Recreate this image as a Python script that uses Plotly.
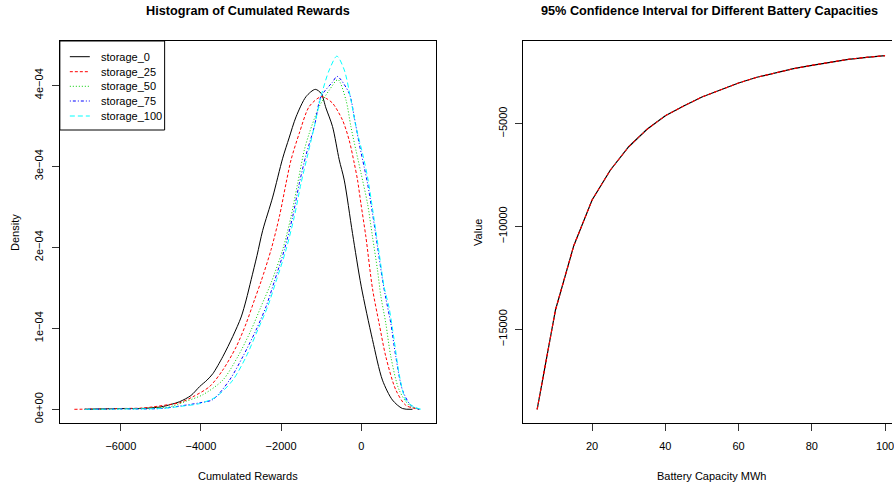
import plotly.graph_objects as go

# ---------------- data: density curves (density in units of 1e-4) ----------------
s0_x = [-6900, -6000, -5500, -5000, -4750, -4533, -4250, -4035, -3850, -3703, -3455, -3205,
        -2996, -2872, -2747, -2600, -2458, -2209, -1960, -1800, -1627, -1377, -1146, -1000,
        -880, -715, -548, -423, -216, 0, 282, 531, 780, 1029, 1280]
s0_y = [0, 0.01, 0.01, 0.03, 0.06, 0.094, 0.17, 0.28, 0.36, 0.44, 0.65, 0.90,
        1.14, 1.35, 1.60, 1.90, 2.21, 2.62, 3.10, 3.35, 3.61, 3.86, 3.95, 3.90,
        3.72, 3.49, 3.08, 2.83, 2.17, 1.52, 0.86, 0.36, 0.115, 0.01, 0]

s25_x = [-7160, -6500, -6000, -5500, -5197, -4782, -4533, -4202, -3786, -3455, -3121, -2872,
         -2665, -2499, -2250, -2042, -1876, -1751, -1544, -1295, -1004, -880, -715, -466,
         -299, -174, -91, -7, 117, 282, 448, 615, 864, 1113, 1445]
s25_y = [0, 0.005, 0.01, 0.015, 0.03, 0.06, 0.08, 0.155, 0.28, 0.485, 0.77, 1.06,
         1.35, 1.58, 1.97, 2.38, 2.79, 3.08, 3.41, 3.74, 3.86, 3.84, 3.78, 3.57,
         3.32, 3.04, 2.83, 2.54, 2.13, 1.49, 1.06, 0.65, 0.24, 0.05, 0]

s50_x = [-6900, -6000, -5500, -5000, -4782, -4368, -3953, -3455, -3080, -2747, -2499, -2250,
         -1960, -1751, -1586, -1420, -1295, -1046, -797, -581, -381, -257, -132, -7,
         158, 282, 407, 490, 615, 740, 946, 1196, 1450]
s50_y = [0, 0.005, 0.01, 0.02, 0.03, 0.10, 0.18, 0.36, 0.65, 0.98, 1.27, 1.56,
         1.97, 2.38, 2.79, 3.20, 3.41, 3.74, 3.94, 4.07, 3.82, 3.49, 3.20, 2.92,
         2.54, 2.13, 1.72, 1.40, 1.06, 0.65, 0.24, 0.05, 0]

s75_x = [-6900, -6000, -5000, -4533, -4035, -3703, -3288, -2955, -2623, -2374, -2167, -1918,
         -1710, -1544, -1377, -1170, -1004, -715, -600, -299, -174, -50, 75, 158,
         282, 407, 531, 615, 740, 864, 1029, 1237, 1450]
s75_y = [0, 0.005, 0.01, 0.04, 0.08, 0.12, 0.36, 0.65, 0.98, 1.27, 1.58, 1.97,
         2.38, 2.79, 3.14, 3.49, 3.86, 4.04, 4.11, 3.90, 3.61, 3.28, 2.99, 2.79,
         2.42, 2.01, 1.60, 1.37, 1.06, 0.65, 0.24, 0.05, 0]

s100_x = [-6900, -6000, -5000, -4450, -4035, -3620, -3205, -2872, -2582, -2333, -2125, -1876,
          -1669, -1502, -1336, -1170, -1004, -797, -606, -423, -257, -132, 33, 158,
          324, 448, 573, 698, 822, 946, 1113, 1320, 1500]
s100_y = [0, 0.005, 0.01, 0.04, 0.07, 0.155, 0.36, 0.65, 0.98, 1.27, 1.58, 1.97,
          2.38, 2.79, 3.14, 3.49, 3.86, 4.19, 4.36, 4.19, 3.82, 3.49, 3.16, 2.87,
          2.34, 1.93, 1.51, 1.25, 0.86, 0.44, 0.115, 0.03, 0]

series_names = ["storage_0", "storage_25", "storage_50", "storage_75", "storage_100"]
series_colors = ["#000000", "#FF0000", "#00CD00", "#0000FF", "#00FFFF"]
series_dash = ["solid", "3px,2px", "1px,2px", "1px,2px,3px,2px", "5px,3px"]

density_ticks = [0, 1, 2, 3, 4]
density_ticktext = ["0e+00", "1e\u221204", "2e\u221204", "3e\u221204", "4e\u221204"]
reward_ticks = [-6000, -4000, -2000, 0]
reward_ticktext = ["\u22126000", "\u22124000", "\u22122000", "0"]

# ---------------- data: battery capacity curve ----------------
capacity = [5, 10, 15, 20, 25, 30, 35, 40, 45, 50, 55, 60, 65, 70, 75, 80, 85, 90, 95, 100]
mean_value = [-18891, -14061, -10934, -8711, -7252, -6119, -5273, -4611, -4139, -3701,
              -3361, -3020, -2743, -2519, -2325, -2160, -1999, -1868, -1770, -1693]
ci_lower = [-18891, -14061, -10934, -8711, -7252, -6119, -5273, -4611, -4139, -3701,
            -3361, -3020, -2743, -2519, -2325, -2160, -1999, -1868, -1770, -1693]
ci_upper = [-18891, -14061, -10934, -8711, -7252, -6119, -5273, -4611, -4139, -3701,
            -3361, -3020, -2743, -2519, -2325, -2160, -1999, -1868, -1770, -1693]
cap_ticks = [20, 40, 60, 80, 100]
value_ticks = [-15000, -10000, -5000]
value_ticktext = ["\u221215000", "\u221210000", "\u22125000"]

# ---------------- figure ----------------
W, H = 894, 484
FONT = "Liberation Sans, Arial, Helvetica, sans-serif"

def px(x):
    return x / W

def py(y):
    return 1 - y / H

fig = go.Figure()

xs = [s0_x, s25_x, s50_x, s75_x, s100_x]
ys = [s0_y, s25_y, s50_y, s75_y, s100_y]
for name, col, dash, x, y in zip(series_names, series_colors, series_dash, xs, ys):
    fig.add_trace(go.Scatter(
        x=x, y=[v * 1e-4 for v in y], mode="lines", name=name,
        line=dict(color=col, width=1, dash=dash, shape="spline", smoothing=0.8),
        xaxis="x", yaxis="y", showlegend=False))

fig.add_trace(go.Scatter(x=capacity, y=mean_value, mode="lines", name="mean",
                         line=dict(color="#000000", width=1.2),
                         xaxis="x2", yaxis="y2", showlegend=False))
fig.add_trace(go.Scatter(x=capacity, y=ci_lower, mode="lines", name="lower",
                         line=dict(color="#FF0000", width=1, dash="3px,3px"),
                         xaxis="x2", yaxis="y2", showlegend=False))
fig.add_trace(go.Scatter(x=capacity, y=ci_upper, mode="lines", name="upper",
                         line=dict(color="#FF0000", width=1, dash="3px,3px"),
                         xaxis="x2", yaxis="y2", showlegend=False))

# plot box geometry (pixels)
L1, R1, T, B = 60, 437, 41, 423
L2 = 524.3

axis_common = dict(showgrid=False, zeroline=False, showline=True, linecolor="black",
                   linewidth=1, ticks="outside", ticklen=7, tickcolor="#333",
                   tickfont=dict(family=FONT, size=11, color="black"))

fig.update_layout(
    width=W, height=H, margin=dict(l=0, r=0, t=0, b=0),
    paper_bgcolor="white", plot_bgcolor="white",
    font=dict(family=FONT, size=11, color="black"),
    xaxis=dict(domain=[px(L1), px(R1)], range=[-7522, 1868], anchor="y", mirror=True,
               tickvals=reward_ticks, ticktext=reward_ticktext, ticklabelstandoff=6,
               **axis_common),
    yaxis=dict(domain=[py(B), py(T)], range=[-0.169e-4, 4.547e-4], anchor="x", mirror=True,
               tickvals=[v * 1e-4 for v in density_ticks], ticktext=density_ticktext,
               tickangle=-90, ticklabelstandoff=4, **axis_common),
    xaxis2=dict(domain=[px(L2), 1], range=[1.17, 101.9], anchor="y2", mirror=True,
                tickvals=cap_ticks, ticklabelstandoff=6, ticklabeloverflow="allow",
                **axis_common),
    yaxis2=dict(domain=[py(B), py(T)], range=[-19557, -978], anchor="x2", mirror=False,
                tickvals=value_ticks, ticktext=value_ticktext, tickangle=-90,
                ticklabelstandoff=4, **axis_common),
)

annotations = [
    dict(text="<b>Histogram of Cumulated Rewards</b>", x=px((L1 + R1) / 2), y=py(11),
         font=dict(size=12.7, family=FONT)),
    dict(text="<b>95% Confidence Interval for Different Battery Capacities</b>",
         x=px(711), y=py(11), font=dict(size=12.7, family=FONT)),
    dict(text="Cumulated Rewards", x=px((L1 + R1) / 2), y=py(476), font=dict(size=11, family=FONT)),
    dict(text="Battery Capacity MWh", x=px(712.7), y=py(476), font=dict(size=11, family=FONT)),
    dict(text="Density", x=px(15), y=py((T + B) / 2), textangle=-90, font=dict(size=11, family=FONT)),
    dict(text="Value", x=px(479), y=py((T + B) / 2), textangle=-90, font=dict(size=11, family=FONT)),
]
for a in annotations:
    a.update(xref="paper", yref="paper", showarrow=False, xanchor="center", yanchor="middle")

# legend (drawn as in R's legend(): box, line samples, labels)
shapes = [dict(type="rect", xref="paper", yref="paper", x0=px(L1), x1=px(165),
               y0=py(130), y1=py(T), line=dict(color="black", width=1), fillcolor="white",
               layer="below")]
row_y = [56.7, 71.7, 86.3, 101, 116]
for name, col, dash, ry in zip(series_names, series_colors, series_dash, row_y):
    shapes.append(dict(type="line", xref="paper", yref="paper", x0=px(70), x1=px(90),
                       y0=py(ry), y1=py(ry), line=dict(color=col, width=1, dash=dash)))
    annotations.append(dict(text=name, xref="paper", yref="paper", x=px(99.3), y=py(ry),
                            xanchor="left", yanchor="middle", showarrow=False,
                            font=dict(size=11, family=FONT)))

fig.update_layout(annotations=annotations, shapes=shapes)
fig.write_html("out.html")
